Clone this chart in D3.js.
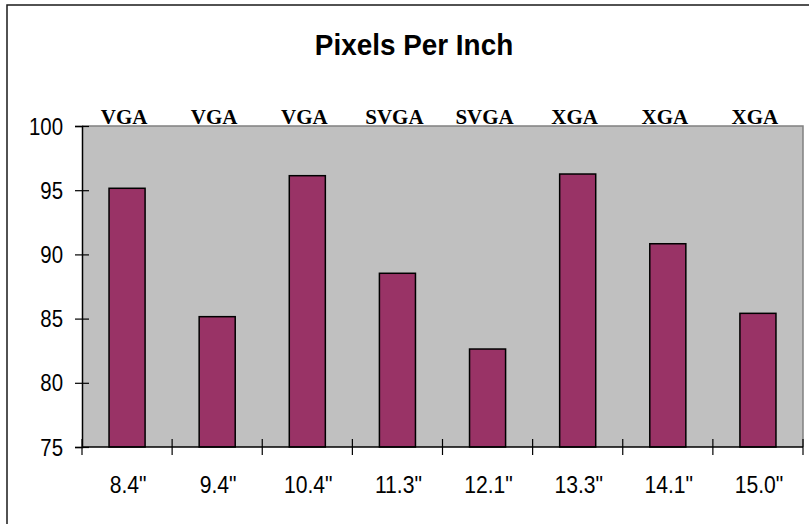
<!DOCTYPE html>
<html>
<head>
<meta charset="utf-8">
<script src="https://cdn.jsdelivr.net/npm/d3@7"></script>
<style>
  html, body { margin: 0; padding: 0; background: #fff; }
  svg { display: block; }
</style>
</head>
<body>
<svg id="chart" width="809" height="524"></svg>
<script>
const title = "Pixels Per Inch";
const categories = ['8.4"', '9.4"', '10.4"', '11.3"', '12.1"', '13.3"', '14.1"', '15.0"'];
const resolutions = ["VGA", "VGA", "VGA", "SVGA", "SVGA", "XGA", "XGA", "XGA"];
const ppi = [95.15, 85.15, 96.13, 88.53, 82.63, 96.26, 90.83, 85.41];
const yTicks = [75, 80, 85, 90, 95, 100];

const svg = d3.select("#chart");
const W = 809, H = 524;
const plot = { left: 82, top: 126, right: 803, bottom: 447 };

// outer frame (extends beyond right/bottom edge)
svg.append("rect")
  .attr("x", 7).attr("y", 5).attr("width", W + 20).attr("height", H + 20)
  .attr("fill", "#fff").attr("stroke", "#1a1a1a").attr("stroke-width", 1.5);

const x = d3.scaleBand().domain(categories).range([plot.left, plot.right]).padding(0);
const y = d3.scaleLinear().domain([75, 100]).range([plot.bottom, plot.top]);

// plot area
svg.append("rect")
  .attr("x", plot.left).attr("y", plot.top)
  .attr("width", plot.right - plot.left).attr("height", plot.bottom - plot.top)
  .attr("fill", "#C0C0C0");
svg.append("path")
  .attr("d", `M${plot.left},${plot.top}H${plot.right}V${plot.bottom}`)
  .attr("fill", "none").attr("stroke", "#808080").attr("stroke-width", 1.5);

// bars
const barW = x.bandwidth() * 0.4;
svg.append("g").selectAll("rect").data(ppi).join("rect")
  .attr("x", (d, i) => x(categories[i]) + x.bandwidth() / 2 - barW / 2)
  .attr("y", d => y(d))
  .attr("width", barW)
  .attr("height", d => y(75) - y(d))
  .attr("fill", "#993366")
  .attr("stroke", "#000").attr("stroke-width", 1.5);

// y axis
const yAxis = svg.append("g").attr("transform", `translate(${plot.left},0)`)
  .call(d3.axisLeft(y).tickValues(yTicks).tickSize(7).tickFormat(""));
yAxis.select(".domain").attr("stroke", "#000").attr("stroke-width", 1.5);
yAxis.selectAll(".tick line").attr("x2", -7).attr("x1", 7).attr("stroke", "#000").attr("stroke-width", 1.2);

function sText(g, px, py, txt, opts) {
  g.append("text")
    .attr("transform", `translate(${px},${py}) scale(${opts.sx || 1},1)`)
    .attr("text-anchor", opts.anchor || "middle")
    .attr("font-family", opts.family || "'Liberation Sans', Arial, sans-serif")
    .attr("font-size", opts.size)
    .attr("font-weight", opts.weight || "normal")
    .attr("fill", "#000")
    .text(txt);
}

const ylab = svg.append("g");
yTicks.forEach(t => sText(ylab, 63, y(t) + 8.5, String(t), { anchor: "end", size: 24, sx: 0.85 }));

// x axis
const xAxisG = svg.append("g");
xAxisG.append("line")
  .attr("x1", plot.left).attr("x2", plot.right)
  .attr("y1", plot.bottom).attr("y2", plot.bottom)
  .attr("stroke", "#000").attr("stroke-width", 1.5);
const boundaries = categories.map(c => x(c)).concat([x(categories[categories.length - 1]) + x.bandwidth()]);
xAxisG.selectAll("line.tick").data(boundaries).join("line")
  .attr("class", "tick")
  .attr("x1", d => d).attr("x2", d => d)
  .attr("y1", plot.bottom - 8).attr("y2", plot.bottom + 8)
  .attr("stroke", "#000").attr("stroke-width", 1.2);

const xlab = svg.append("g");
categories.forEach(c => sText(xlab, x(c) + x.bandwidth() / 2 + 1, 492.5, c, { size: 24, sx: 0.88 }));

// resolution labels above plot
const rlab = svg.append("g");
resolutions.forEach((r, i) => sText(rlab, x(categories[i]) + x.bandwidth() / 2 - 3, 123.5, r,
  { size: 21, weight: "bold", family: "'Liberation Serif', 'Times New Roman', serif" }));

// title
sText(svg, 414, 55, title, { size: 30, sx: 0.93, weight: "bold" });
</script>
</body>
</html>
